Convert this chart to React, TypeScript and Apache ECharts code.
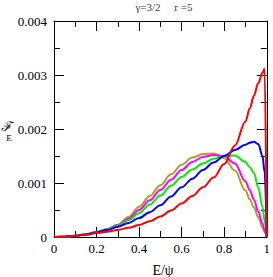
import React, { useEffect, useRef } from "react";
import * as echarts from "echarts";

const xs = [0, 0.05, 0.1, 0.15, 0.2, 0.25, 0.3, 0.35, 0.4, 0.45, 0.5, 0.55, 0.6, 0.65, 0.7, 0.75, 0.8, 0.85, 0.9, 0.92, 0.94, 0.96, 0.98, 0.99, 1.0];

// values in units of 1e-3
const olive = [0, 0.006, 0.025, 0.05, 0.095, 0.15, 0.225, 0.37, 0.56, 0.76, 0.96, 1.16, 1.34, 1.47, 1.535, 1.545, 1.46, 1.23, 0.86, 0.7, 0.54, 0.37, 0.18, 0.09, 0];
const magenta = [0, 0.006, 0.024, 0.05, 0.092, 0.145, 0.22, 0.34, 0.5, 0.68, 0.87, 1.06, 1.24, 1.39, 1.48, 1.52, 1.5, 1.36, 1.03, 0.87, 0.69, 0.47, 0.25, 0.12, 0];
const green = [0, 0.006, 0.024, 0.049, 0.09, 0.14, 0.21, 0.31, 0.44, 0.6, 0.77, 0.95, 1.11, 1.25, 1.36, 1.45, 1.5, 1.51, 1.39, 1.29, 1.18, 0.92, 0.56, 0.3, 0];
const blue = [0, 0.006, 0.023, 0.047, 0.085, 0.13, 0.19, 0.26, 0.35, 0.46, 0.59, 0.75, 0.92, 1.08, 1.24, 1.38, 1.5, 1.61, 1.71, 1.745, 1.765, 1.72, 1.5, 1.2, 0];
const red = [0, 0.005, 0.02, 0.04, 0.072, 0.098, 0.13, 0.17, 0.22, 0.29, 0.38, 0.49, 0.62, 0.76, 0.92, 1.1, 1.35, 1.69, 2.14, 2.38, 2.62, 2.85, 3.04, 3.12, 0];

const seriesDefs = [
  { name: "olive", color: "#aca024", values: olive },
  { name: "magenta", color: "#ff00ff", values: magenta },
  { name: "green", color: "#00ee00", values: green },
  { name: "blue", color: "#0000ff", values: blue },
  { name: "red", color: "#ff0000", values: red },
];

const xTicks = [0, 0.2, 0.4, 0.6, 0.8, 1];
const yTicks = [0, 0.001, 0.002, 0.003, 0.004];

const serif = "Times New Roman, Liberation Serif, serif";

export default function App() {
  const ref = useRef<HTMLDivElement>(null);
  useEffect(() => {
    document.body.style.margin = "0";
    const chart = echarts.init(ref.current!, null, { renderer: "svg" });
    const axisCommon = {
      type: "value" as const,
      axisLine: { show: true, onZero: false, lineStyle: { color: "#000", width: 1 } },
      splitLine: { show: false },
    };
    const tickCommon = {
      axisTick: { show: true, inside: true, length: 10, lineStyle: { color: "#000" } },
      minorTick: { show: true, splitNumber: 2, length: 6, lineStyle: { color: "#000" } },
    };
    chart.setOption({
      animation: false,
      backgroundColor: "#fff",
      textStyle: { fontFamily: serif },
      grid: { left: 54, right: 2, top: 21, bottom: 40 },
      xAxis: [
        {
          ...axisCommon,
          ...tickCommon,
          position: "bottom",
          min: 0,
          max: 1,
          interval: 0.2,
          axisLabel: {
            margin: 5,
            fontFamily: serif,
            fontSize: 13,
            color: "#000",
            formatter: (v: number) => {
              const t = xTicks.find((k) => Math.abs(k - v) < 1e-9);
              return t === undefined ? "" : String(t);
            },
          },
        },
        {
          ...axisCommon,
          ...tickCommon,
          position: "top",
          min: 0,
          max: 1,
          interval: 0.2,
          axisLabel: { show: false },
        },
      ],
      yAxis: [
        {
          ...axisCommon,
          ...tickCommon,
          position: "left",
          min: 0,
          max: 0.004,
          interval: 0.001,
          axisLabel: {
            margin: 7,
            fontFamily: serif,
            fontSize: 13,
            color: "#000",
            formatter: (v: number) => {
              const t = yTicks.find((k) => Math.abs(k - v) < 1e-9);
              return t === undefined ? "" : t === 0 ? "0" : t.toFixed(3);
            },
          },
        },
        {
          ...axisCommon,
          ...tickCommon,
          position: "right",
          min: 0,
          max: 0.004,
          interval: 0.001,
          axisLabel: { show: false },
        },
      ],
      series: seriesDefs.map((s) => ({
        type: "line",
        name: s.name,
        xAxisIndex: 0,
        yAxisIndex: 0,
        showSymbol: false,
        smooth: 0.35,
        smoothMonotone: "x",
        clip: true,
        lineStyle: { color: s.color, width: 2 },
        data: xs.map((x, i) => [x, s.values[i] / 1000]),
      })),
      graphic: [
        {
          type: "text",
          x: 164,
          y: 7,
          style: {
            text: "γ=3/2     r =5",
            fontFamily: serif,
            fontSize: 11,
            fill: "#444",
            textAlign: "center",
            textVerticalAlign: "middle",
          },
        },
        {
          type: "text",
          x: 163,
          y: 270,
          style: {
            text: "E/ψ",
            fontFamily: serif,
            fontSize: 14,
            fill: "#000",
            textAlign: "center",
            textVerticalAlign: "middle",
          },
        },
        {
          type: "text",
          x: 6,
          y: 126,
          style: {
            text: "ℱ",
            fontFamily: serif,
            fontStyle: "italic",
            fontSize: 13,
            fill: "#000",
            textAlign: "center",
            textVerticalAlign: "middle",
          },
        },
        {
          type: "text",
          x: 9,
          y: 138,
          style: {
            text: "E",
            fontFamily: serif,
            fontSize: 9,
            fill: "#000",
            textAlign: "center",
            textVerticalAlign: "middle",
          },
        },
      ],
    });
    return () => chart.dispose();
  }, []);
  return <div ref={ref} style={{ width: 273, height: 277 }} />;
}
